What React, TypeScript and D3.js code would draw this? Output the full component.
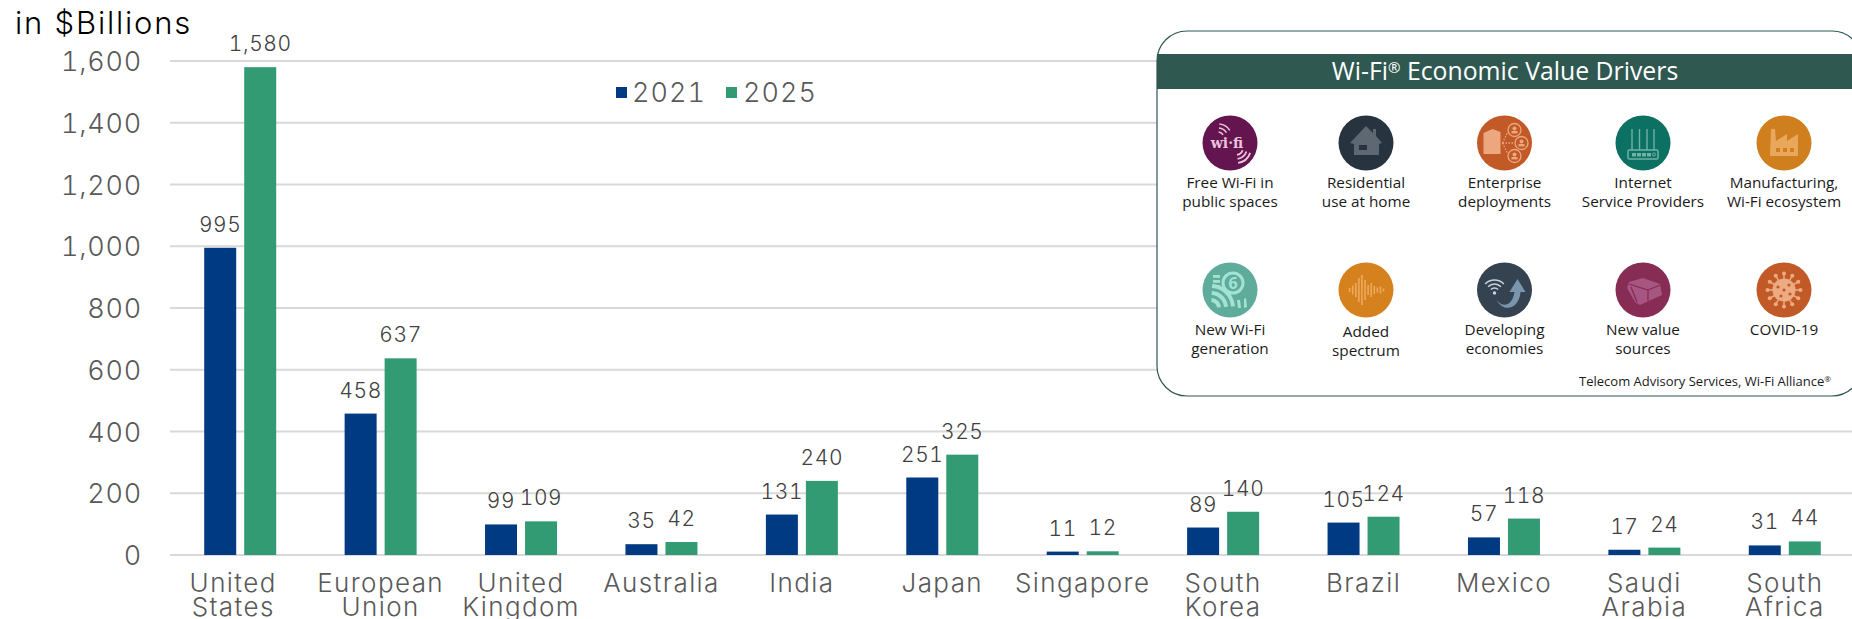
import React from "react";
import * as d3 from "d3";

const W = 1852, H = 619;
const categories = [["United","States"],["European","Union"],["United","Kingdom"],["Australia"],["India"],["Japan"],["Singapore"],["South","Korea"],["Brazil"],["Mexico"],["Saudi","Arabia"],["South","Africa"]];
const values2021 = [995,458,99,35,131,251,11,89,105,57,17,31];
const values2025 = [1580,637,109,42,240,325,12,140,124,118,24,44];
const yTicks = [0,200,400,600,800,1000,1200,1400,1600];
const driverLabels = [["Free Wi-Fi in","public spaces"],["Residential","use at home"],["Enterprise","deployments"],["Internet","Service Providers"],["Manufacturing,","Wi-Fi ecosystem"],["New Wi-Fi","generation"],["Added","spectrum"],["Developing","economies"],["New value","sources"],["COVID-19"]];
const driverColors = ["#64154f","#27343f","#c25a28","#0c7062","#d07f1e","#5fab9c","#d5811d","#34434f","#872d55","#c25a28"];
const waveHeights = [4,9,14,24,30,20,10,14,8,5,7,3];

const CHART_FONT = "Inter, 'Noto Sans', sans-serif";
const PANEL_FONT = "'Open Sans', sans-serif";
const TAB = { fontVariantNumeric: "tabular-nums" } as const;

function Arcs({ x, y, radii, a0, a1, stroke, w }: any) {
  const arc = d3.arc();
  return <>{radii.map((r: number) => (
    <path key={r} transform={`translate(${x},${y})`} fill={stroke}
      d={arc({ innerRadius: r - w / 2, outerRadius: r + w / 2, startAngle: a0, endAngle: a1 }) as string} />
  ))}</>;
}

function Icon({ i }: { i: number }) {
  if (i === 0) {
    const c = "#e9c5dc";
    return <g>
      <text x={-3} y={5} textAnchor="middle" fontFamily="'DejaVu Serif', serif" fontWeight={700} fontSize={14} fill={c}>wi·fi</text>
      <Arcs x={-12} y={-5} radii={[6, 10, 14]} a0={0.1} a1={1.0} stroke={c} w={1.6} />
      <Arcs x={6} y={5} radii={[7, 11, 15]} a0={1.9} a1={3.0} stroke={c} w={1.8} />
    </g>;
  }
  if (i === 1) {
    const c = "#5d6872";
    return <path fill={c} fillRule="evenodd" d="M-16,0 L0,-17 L7,-10 L7,-14 L10,-14 L10,-7 L16,0 L13,1 L13,12 L-12,12 L-12,1 Z M-7,2 L-7,7 L1,7 L1,2 Z" />;
  }
  if (i === 2) {
    const c = "#eda77f";
    const people = [[10, -13], [17, 0], [10, 13]];
    return <g fill={c}>
      <path d="M-21,-10 L-12,-14 L-4,-11 L-4,11 L-21,11 Z" />
      {people.map(([xx, yy], k) => (
        <g key={k}>
          <circle cx={xx} cy={yy} r={6.5} fill="none" stroke={c} strokeWidth={1.3} />
          <circle cx={xx} cy={yy - 1.5} r={2} />
          <rect x={xx - 3} y={yy + 1} width={6} height={2.4} />
          <line x1={-2} y1={0} x2={xx - 7} y2={yy * 0.8} stroke={c} strokeWidth={1.3} strokeDasharray="1.5 1.5" />
        </g>
      ))}
    </g>;
  }
  if (i === 3) {
    const c = "#6fb2a6";
    return <g>
      {[-11, -3.5, 4, 11].map(a => <line key={a} x1={a} x2={a} y1={-14} y2={7} stroke={c} strokeWidth={1.4} />)}
      <rect x={-15} y={7} width={30} height={9} rx={1.5} fill="none" stroke={c} strokeWidth={1.5} />
      {[-11, -6, -1, 4].map(a => <rect key={a} x={a} y={10} width={4} height={3.5} fill={c} />)}
      <circle cx={11} cy={11.5} r={1.5} fill="none" stroke={c} />
    </g>;
  }
  if (i === 4) {
    return <path fill="#e8a75a" fillRule="evenodd" d="M-13,-14 L-9,-14 L-8,-2 L3,-9 L3,-2 L14,-9 L14,13 L-14,13 Z M-8,5 L-8,9 L-4,9 L-4,5 Z M-1,5 L-1,9 L3,9 L3,5 Z M6,5 L6,9 L10,9 L10,5 Z" />;
  }
  if (i === 5) {
    const c = "#a3e3d5";
    return <g>
      <Arcs x={-19} y={18} radii={[8, 15, 22]} a0={0.05} a1={1.5} stroke={c} w={4} />
      <circle cx={3} cy={-7} r={10} fill="none" stroke={c} strokeWidth={3} />
      <text x={3} y={-1} textAnchor="middle" fontFamily="'Open Sans', sans-serif" fontWeight={700} fontSize={16} fill={c}>6</text>
      {[-15, -10, -5].map(b => <rect key={b} x={-17} y={b} width={7} height={2.8} fill={c} />)}
      <path d="M7,10 L10,10 L11,18 L8,18 Z M14,9 L16,8 L17,17 L14,18 Z" fill={c} />
    </g>;
  }
  if (i === 6) {
    const b = d3.scaleBand().domain(waveHeights.map((_, k) => String(k))).range([-18, 19]);
    return <g>{waveHeights.map((h, k) => (
      <rect key={k} x={b(String(k))! + 0.8} y={-h / 2} width={1.6} height={h} fill="#eda95c" />
    ))}</g>;
  }
  if (i === 7) {
    return <g>
      <Arcs x={-10} y={3} radii={[5, 9, 13]} a0={-0.8} a1={0.8} stroke="#c8d3dc" w={1.5} />
      <circle cx={-10} cy={3} r={1.7} fill="#c8d3dc" />
      <path fill="#7a96ae" d="M-8,10 C-2,18 8,16 10,2 L5,2 L13,-11 L21,2 L16,2 C15,18 0,24 -8,10 Z" />
    </g>;
  }
  if (i === 8) {
    return <g>
      <path fill="#a65681" d="M-16,-2 L-14,-8 L0,-12 L17,-6 L19,5 L-3,15 L-8,12 Z" />
      <path fill="none" stroke="#872d55" strokeWidth={1.3} d="M-14,-6 L5,0 L17,-5 M5,0 L5,11 M-12,-3 L-6,12" />
    </g>;
  }
  const c = "#ecab83";
  const spikes = d3.range(12).map(k => (k * Math.PI * 2) / 12);
  return <g>
    <circle r={11.5} fill={c} />
    {spikes.map(a => (
      <g key={a}>
        <line x1={0} y1={0} x2={Math.cos(a) * 16} y2={Math.sin(a) * 16} stroke={c} strokeWidth={1.5} />
        <circle cx={Math.cos(a) * 16.5} cy={Math.sin(a) * 16.5} r={2} fill={c} />
      </g>
    ))}
    {[[0,0],[-6,-3],[5,-5],[-3,6],[6,4]].map(([a, b2], k) => <circle key={k} cx={a} cy={b2} r={1.6} fill="#c25a28" />)}
  </g>;
}

export default function App() {
  const keys = categories.map((_, i) => String(i));
  const x = d3.scaleBand().domain(keys).range([170, 1855]);
  const y = d3.scaleLinear().domain([0, 1600]).range([555, 61]);
  const bw = 32, gap = 8;
  const cx = [1230, 1366, 1504.5, 1643, 1784];
  const cy = [143, 290];
  return (
    <svg width={W} height={H} style={{ position: "absolute", left: 0, top: 0, background: "#fff" }}>
      {yTicks.map(t => (
        <g key={t}>
          <line x1={170} x2={1852} y1={y(t)} y2={y(t)} stroke="#d9d9d9" strokeWidth={2} />
          <text x={142} y={y(t) + 10} textAnchor="end" fontFamily={CHART_FONT} fontWeight={300} fontSize={27} letterSpacing={0.8} fill="#595959" style={TAB}>{d3.format(",")(t)}</text>
        </g>
      ))}
      <text x={15} y={34} fontFamily={CHART_FONT} fontWeight={300} fontSize={31} letterSpacing={1.8} fill="#000">in $Billions</text>
      {categories.map((c, i) => {
        const mid = x(String(i))! + x.bandwidth() / 2;
        const labelX = i === 0 ? mid - 7 : mid;
        return (
          <g key={i}>
            <rect x={mid - gap / 2 - bw} y={y(values2021[i])} width={bw} height={555 - y(values2021[i])} fill="#003a82" />
            <rect x={mid + gap / 2} y={y(values2025[i])} width={bw} height={555 - y(values2025[i])} fill="#339b74" />
            <text x={mid - gap / 2 - bw / 2} y={y(values2021[i]) - 16} textAnchor="middle" fontFamily={CHART_FONT} fontWeight={300} fontSize={21} letterSpacing={0.6} fill="#404040" style={TAB}>{d3.format(",")(values2021[i])}</text>
            <text x={mid + gap / 2 + bw / 2} y={y(values2025[i]) - 16} textAnchor="middle" fontFamily={CHART_FONT} fontWeight={300} fontSize={21} letterSpacing={0.6} fill="#404040" style={TAB}>{d3.format(",")(values2025[i])}</text>
            {c.map((l, j) => (
              <text key={j} x={labelX} y={592 + j * 24} textAnchor="middle" fontFamily={CHART_FONT} fontWeight={300} fontSize={26} letterSpacing={1.4} fill="#595959">{l}</text>
            ))}
          </g>
        );
      })}
      <rect x={616} y={87} width={11} height={11} fill="#003a82" />
      <text x={632} y={102} fontFamily={CHART_FONT} fontWeight={300} fontSize={27} letterSpacing={1} fill="#595959" style={TAB}>2021</text>
      <rect x={726} y={87} width={11} height={11} fill="#339b74" />
      <text x={743} y={102} fontFamily={CHART_FONT} fontWeight={300} fontSize={27} letterSpacing={1} fill="#595959" style={TAB}>2025</text>

      <rect x={1157} y={31} width={705} height={365} rx={30} fill="#fff" stroke="#2f5850" strokeWidth={1.2} />
      <rect x={1157} y={54} width={695} height={35} fill="#2f5850" />
      <text x={1505} y={80} textAnchor="middle" fontFamily={PANEL_FONT} fontSize={24.8} fill="#fff">Wi-Fi<tspan fontSize={15} dy={-7}>®</tspan><tspan dy={7}> Economic Value Drivers</tspan></text>
      {driverLabels.map((l, i) => {
        const px = cx[i % 5], py = cy[Math.floor(i / 5)];
        const dy = i === 6 ? 2 : 0;
        return (
          <g key={i}>
            <circle cx={px} cy={py} r={27.5} fill={driverColors[i]} />
            <g transform={`translate(${px},${py})`}><Icon i={i} /></g>
            {l.map((s, j) => (
              <text key={j} x={px} y={py + 45 + dy + j * 19} textAnchor="middle" fontFamily={PANEL_FONT} fontSize={15.3} fill="#1a1a1a">{s}</text>
            ))}
          </g>
        );
      })}
      <text x={1831} y={386} textAnchor="end" fontFamily={PANEL_FONT} fontSize={13} fill="#1a1a1a">Telecom Advisory Services, Wi-Fi Alliance<tspan fontSize={8} dy={-4}>®</tspan></text>
    </svg>
  );
}
